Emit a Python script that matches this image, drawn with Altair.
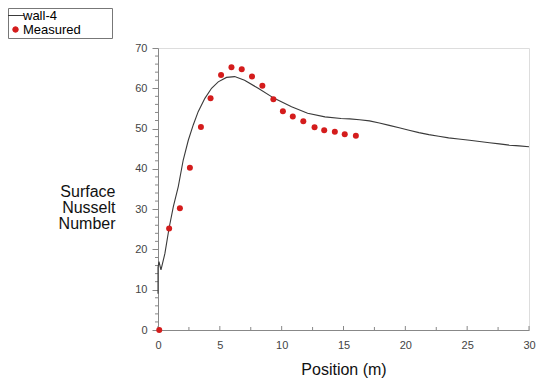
import altair as alt
import pandas as pd

# Simulated profile (wall-4)
line_x = [0, 0, 0.08, 0.24, 0.56, 0.89, 1.24, 1.64, 2.04, 2.45, 2.85, 3.25, 3.79, 4.33, 4.87,
          5.54, 6.2, 7.0, 8.1, 9.4, 10.8, 12.1, 13.5, 14.8, 15.5, 16.3, 17.1, 17.9, 18.7, 19.5,
          20.3, 21.1, 21.9, 22.7, 23.5, 24.3, 25.2, 26.0, 26.8, 27.6, 28.4, 29.2, 30]
line_y = [9.0, 15.5, 17.0, 14.9, 19.0, 25.2, 30.6, 35.6, 42.2, 47.1, 50.9, 54.2, 57.5, 60.0,
          61.6, 62.7, 62.9, 62.0, 60.0, 57.5, 55.4, 53.8, 52.9, 52.5, 52.4, 52.2, 51.9, 51.4,
          50.8, 50.2, 49.6, 49.0, 48.5, 48.1, 47.7, 47.4, 47.1, 46.8, 46.5, 46.2, 45.9, 45.7, 45.5]

# Measured points
meas_x = [0.1, 0.9, 1.77, 2.58, 3.47, 4.25, 5.1, 5.94, 6.77, 7.6, 8.44, 9.33, 10.1, 10.9,
          11.75, 12.66, 13.44, 14.3, 15.1, 16.0]
meas_y = [0, 25.2, 30.2, 40.3, 50.4, 57.5, 63.3, 65.2, 64.7, 62.9, 60.6, 57.3, 54.3, 53.0,
          51.8, 50.3, 49.6, 49.2, 48.6, 48.2]

series_names = ["wall-4", "Measured"]
series_colors = ["#3a3a3a", "#d41c1c"]

x_ticks_major = [0, 5, 10, 15, 20, 25, 30]
x_ticks_minor = [2.5, 7.5, 12.5, 17.5, 22.5, 27.5]
y_ticks_major = [0, 10, 20, 30, 40, 50, 60, 70]
y_ticks_minor = [v for v in range(2, 70, 2) if v % 10 != 0]

W, H = 371, 282
FONT = "Liberation Sans"

line_df = pd.DataFrame({"x": line_x, "y": line_y, "i": list(range(len(line_x))),
                        "series": series_names[0]})
meas_df = pd.DataFrame({"x": meas_x, "y": meas_y, "series": series_names[1]})

xscale = alt.Scale(domain=[0, 30], nice=False, zero=False)
yscale = alt.Scale(domain=[0, 70], nice=False)

is_line = "datum.value === 'wall-4'"
blank_pad = "\u2800" * 3  # invisible glyphs to widen the legend box like the reference
color = alt.Color(
    "series:N",
    scale=alt.Scale(domain=series_names, range=series_colors),
    legend=alt.Legend(
        orient="none", legendX=-150, legendY=-40, title=None,
        labelFontSize=13, labelFont=FONT, labelColor="#000", labelLimit=0,
        labelExpr=f"datum.label === 'Measured' ? datum.label + '{blank_pad}' : datum.label",
        strokeColor="#777", fillColor="white", padding=1, rowPadding=0,
        symbolType={"expr": f"{is_line} ? 'stroke' : 'circle'"},
        symbolSize={"expr": f"{is_line} ? 289 : 30"},
        symbolStrokeColor={"expr": f"{is_line} ? '{series_colors[0]}' : '{series_colors[1]}'"},
        symbolFillColor={"expr": f"{is_line} ? 'transparent' : '{series_colors[1]}'"},
        symbolStrokeWidth=1, labelOffset=1,
    ),
)

x_axis = alt.Axis(values=x_ticks_major, ticks=False, tickSize=0, labelPadding=9,
                  labelFlush=False, labelFontSize=11, labelFont=FONT, labelColor="#444",
                  domainColor="#888", grid=False, title="Position (m)", titleFont=FONT,
                  titleFontSize=16, titleFontWeight="normal", titleColor="#111", titleY=44,
                  titleBaseline="alphabetic")
y_axis = alt.Axis(values=y_ticks_major, tickSize=6, tickColor="#888", labelPadding=5,
                  labelFlush=False, labelFontSize=11, labelFont=FONT, labelColor="#444",
                  domainColor="#888", grid=False, title=["Surface", "Nusselt", "Number"],
                  titleAngle=0, titleAlign="right", titleX=-43, titleY=143,
                  titleBaseline="middle", titleFont=FONT, titleFontSize=16,
                  titleLineHeight=16, titleFontWeight="normal", titleColor="#111")

line = alt.Chart(line_df).mark_line(strokeWidth=1.1).encode(
    x=alt.X("x:Q", scale=xscale, axis=x_axis),
    y=alt.Y("y:Q", scale=yscale, axis=y_axis),
    order="i:Q",
    color=color,
)

points = alt.Chart(meas_df).mark_circle(size=36, opacity=1).encode(
    x=alt.X("x:Q", scale=xscale),
    y=alt.Y("y:Q", scale=yscale),
    color=color,
)

xt_major = alt.Chart(pd.DataFrame({"t": x_ticks_major})).mark_rule(color="#888").encode(
    x=alt.X("t:Q", scale=xscale), y=alt.value(H), y2=alt.value(H - 4))
xt_minor = alt.Chart(pd.DataFrame({"t": x_ticks_minor})).mark_rule(color="#888").encode(
    x=alt.X("t:Q", scale=xscale), y=alt.value(H), y2=alt.value(H - 3))
yt_minor = alt.Chart(pd.DataFrame({"t": y_ticks_minor})).mark_rule(color="#888").encode(
    y=alt.Y("t:Q", scale=yscale), x=alt.value(-3), x2=alt.value(0))

chart = alt.layer(xt_major, xt_minor, yt_minor, line, points).properties(
    width=W, height=H,
    autosize=alt.AutoSizeParams(type="none"),
    padding={"left": 150, "top": 40, "right": 14, "bottom": 50},
).configure_view(stroke=None).configure(background="white")

chart.save("out.html", embed_options={"renderer": "svg", "actions": False})
